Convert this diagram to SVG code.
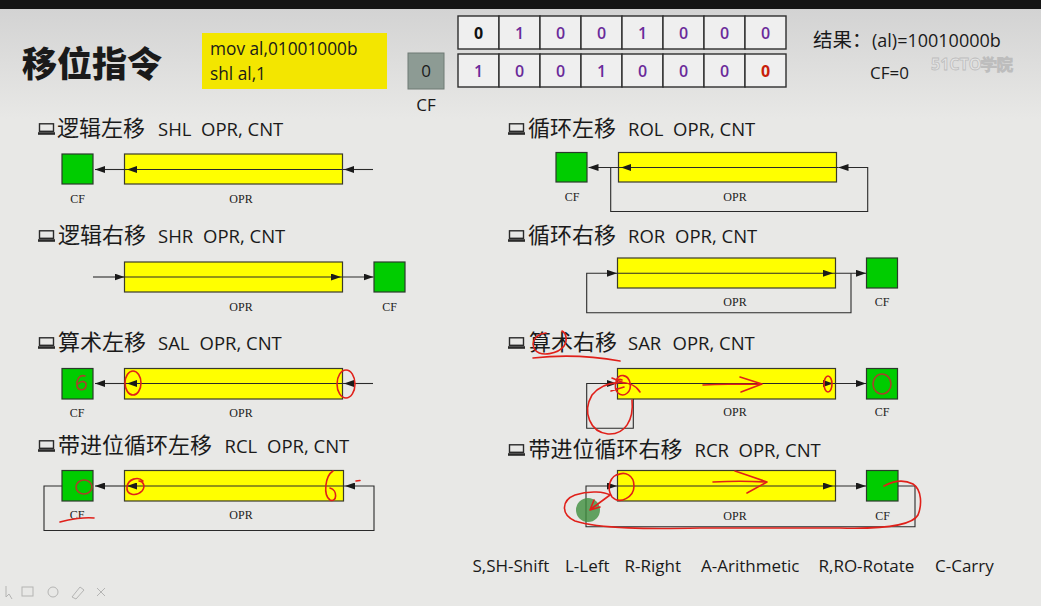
<svg xmlns="http://www.w3.org/2000/svg" width="1041" height="606" viewBox="0 0 1041 606">
<defs>
<linearGradient id="bg" x1="0" y1="0" x2="0" y2="1">
<stop offset="0" stop-color="#d3d3d3"/>
<stop offset="1" stop-color="#e8e8e6"/>
</linearGradient>
<marker id="ah" viewBox="0 0 10 7" refX="10" refY="3.5" markerWidth="10" markerHeight="7" markerUnits="userSpaceOnUse" orient="auto">
<path d="M0,0 L10,3.5 L0,7 z" fill="#1a1a1a"/>
</marker>
<symbol id="ico" viewBox="0 0 17 12">
<rect x="1.5" y="0.8" width="14" height="7.5" fill="none" stroke="#2a2a2a" stroke-width="1.4"/>
<rect x="0" y="9.2" width="17" height="2.6" fill="#2a2a2a"/>
</symbol>
</defs>
<style>
.cjk{font-family:"Noto Sans CJK SC","Noto Sans",sans-serif;fill:#1a1a1a}
.lat{font-family:"Open Sans","Noto Sans",sans-serif;fill:#1a1a1a}
.lbl{font-family:"Liberation Serif","Times New Roman",serif;font-size:12px;fill:#222;text-anchor:middle}
.opr{fill:#ffff00;stroke:#3a3a2a;stroke-width:1.2}
.cf{fill:#00cc00;stroke:#2a3a2a;stroke-width:1.2}
.ln{fill:none;stroke:#2a2a2a;stroke-width:1.1}
.cell{fill:#efefef;stroke:#2e2e2e;stroke-width:1.4}
.bit{font-family:"Open Sans","Noto Sans",sans-serif;font-size:16px;font-weight:600;text-anchor:middle;fill:#6a2a9a}
.red{fill:none;stroke:#e0201a;stroke-width:1.6;stroke-linecap:round;stroke-linejoin:round}
.brn{fill:none;stroke:#a8402a;stroke-width:1.6;stroke-linecap:round}
</style>
<rect x="0" y="0" width="1041" height="606" fill="#e8e8e6"/>
<rect x="0" y="9" width="1041" height="110" fill="url(#bg)"/>
<rect x="0" y="0" width="1041" height="9" fill="#151515"/>

<g id="title">
<text class="cjk" x="22" y="77" font-size="35" font-weight="900">移位指令</text>
</g>

<g id="code">
<rect x="202" y="33" width="185" height="56" fill="#f3e600"/>
<text class="lat" x="210" y="55" font-size="17.3">mov al,01001000b</text>
<text class="lat" x="210" y="80" font-size="17.3">shl al,1</text>
</g>

<g id="bits">
<g id="row1">
<rect class="cell" x="458" y="16" width="41" height="33"/>
<rect class="cell" x="499" y="16" width="41" height="33"/>
<rect class="cell" x="540" y="16" width="41" height="33"/>
<rect class="cell" x="581" y="16" width="41" height="33"/>
<rect class="cell" x="622" y="16" width="41" height="33"/>
<rect class="cell" x="663" y="16" width="41" height="33"/>
<rect class="cell" x="704" y="16" width="41" height="33"/>
<rect class="cell" x="745" y="16" width="41" height="33"/>
<text class="bit" x="478.5" y="38.5" style="fill:#111;font-weight:700">0</text>
<text class="bit" x="519.5" y="38.5">1</text>
<text class="bit" x="560.5" y="38.5">0</text>
<text class="bit" x="601.5" y="38.5">0</text>
<text class="bit" x="642.5" y="38.5">1</text>
<text class="bit" x="683.5" y="38.5">0</text>
<text class="bit" x="724.5" y="38.5">0</text>
<text class="bit" x="765.5" y="38.5">0</text>
</g>
<g id="row2">
<rect class="cell" x="458" y="54" width="41" height="33"/>
<rect class="cell" x="499" y="54" width="41" height="33"/>
<rect class="cell" x="540" y="54" width="41" height="33"/>
<rect class="cell" x="581" y="54" width="41" height="33"/>
<rect class="cell" x="622" y="54" width="41" height="33"/>
<rect class="cell" x="663" y="54" width="41" height="33"/>
<rect class="cell" x="704" y="54" width="41" height="33"/>
<rect class="cell" x="745" y="54" width="41" height="33"/>
<text class="bit" x="478.5" y="76.5">1</text>
<text class="bit" x="519.5" y="76.5">0</text>
<text class="bit" x="560.5" y="76.5">0</text>
<text class="bit" x="601.5" y="76.5">1</text>
<text class="bit" x="642.5" y="76.5">0</text>
<text class="bit" x="683.5" y="76.5">0</text>
<text class="bit" x="724.5" y="76.5">0</text>
<text class="bit" x="765.5" y="76.5" style="fill:#c81e0a;font-weight:700">0</text>
</g>
<g id="cfbit">
<rect x="408" y="53" width="36" height="36" fill="#8d9b94" stroke="#6f7a74" stroke-width="1"/>
<text class="lat" x="426" y="77" font-size="17" text-anchor="middle">0</text>
<text class="lat" x="426" y="111" font-size="17" text-anchor="middle">CF</text>
</g>
</g>

<g id="result">
<text class="lat" x="931" y="70" font-size="16" font-weight="700" style="fill:#e4e4e4;stroke:#bdbdbd;stroke-width:0.8">51CTO学院</text>
<text class="cjk" x="813" y="47" font-size="19.5">结果：</text>
<text class="lat" x="872" y="47" font-size="18">(al)=10010000b</text>
<text class="lat" x="870" y="79" font-size="17">CF=0</text>
</g>

<!-- SHL -->
<g id="shl">
<use href="#ico" x="38" y="123" width="17" height="12"/>
<text class="cjk" x="57" y="136" font-size="22">逻辑左移</text>
<text class="lat" x="158" y="136" font-size="18.5">SHL</text>
<text class="lat" x="201" y="136" font-size="18.5">OPR, CNT</text>
<rect class="cf" x="62" y="154" width="31" height="30"/>
<rect class="opr" x="124.5" y="154" width="218" height="30"/>
<text class="lbl" x="77.5" y="203">CF</text>
<text class="lbl" x="241" y="203">OPR</text>
</g>
<!-- SHR -->
<g id="shr">
<use href="#ico" x="38" y="230" width="17" height="12"/>
<text class="cjk" x="58" y="243" font-size="22">逻辑右移</text>
<text class="lat" x="158" y="243" font-size="18.5">SHR</text>
<text class="lat" x="203" y="243" font-size="18.5">OPR, CNT</text>
<rect class="opr" x="124.5" y="262" width="218" height="30"/>
<rect class="cf" x="374" y="262" width="31" height="30"/>
<text class="lbl" x="241" y="310.5">OPR</text>
<text class="lbl" x="389.5" y="310.5">CF</text>
</g>
<!-- SAL -->
<g id="sal">
<use href="#ico" x="38" y="337" width="17" height="12"/>
<text class="cjk" x="58" y="350" font-size="22">算术左移</text>
<text class="lat" x="158" y="350" font-size="18.5">SAL</text>
<text class="lat" x="199.5" y="350" font-size="18.5">OPR, CNT</text>
<rect class="cf" x="62" y="368.5" width="31" height="30.5"/>
<rect class="opr" x="124.5" y="368.5" width="218" height="30.5"/>
<text class="lbl" x="77" y="417">CF</text>
<text class="lbl" x="241" y="417">OPR</text>
</g>
<!-- RCL -->
<g id="rcl">
<use href="#ico" x="38" y="440" width="17" height="12"/>
<text class="cjk" x="58" y="453" font-size="22">带进位循环左移</text>
<text class="lat" x="224.5" y="453" font-size="18.5">RCL</text>
<text class="lat" x="267" y="453" font-size="18.5">OPR, CNT</text>
<rect class="cf" x="62" y="470.5" width="31" height="30.5"/>
<rect class="opr" x="124.5" y="470.5" width="219" height="30.5"/>
<text class="lbl" x="77" y="519">CF</text>
<text class="lbl" x="241" y="519">OPR</text>
</g>
<!-- ROL -->
<g id="rol">
<use href="#ico" x="508" y="123" width="17" height="12"/>
<text class="cjk" x="528" y="136" font-size="22">循环左移</text>
<text class="lat" x="628" y="136" font-size="18.5">ROL</text>
<text class="lat" x="673" y="136" font-size="18.5">OPR, CNT</text>
<rect class="cf" x="556" y="152.5" width="31" height="29.5"/>
<rect class="opr" x="618.5" y="152.5" width="218" height="29.5"/>
<text class="lbl" x="572" y="200.5">CF</text>
<text class="lbl" x="735" y="200.5">OPR</text>
</g>
<!-- ROR -->
<g id="ror">
<use href="#ico" x="508" y="230" width="17" height="12"/>
<text class="cjk" x="528" y="243" font-size="22">循环右移</text>
<text class="lat" x="628" y="243" font-size="18.5">ROR</text>
<text class="lat" x="675" y="243" font-size="18.5">OPR, CNT</text>
<rect class="opr" x="617.5" y="258" width="218" height="30"/>
<rect class="cf" x="866.5" y="258" width="31" height="30"/>
<text class="lbl" x="735" y="306">OPR</text>
<text class="lbl" x="882" y="306">CF</text>
</g>
<!-- SAR -->
<g id="sar">
<use href="#ico" x="508" y="337" width="17" height="12"/>
<text class="cjk" x="529" y="350" font-size="22">算术右移</text>
<text class="lat" x="628" y="350" font-size="18.5">SAR</text>
<text class="lat" x="672.5" y="350" font-size="18.5">OPR, CNT</text>
<rect class="opr" x="617.5" y="368.5" width="218" height="30.5"/>
<rect class="cf" x="866.5" y="368.5" width="31" height="30.5"/>
<text class="lbl" x="735" y="416">OPR</text>
<text class="lbl" x="882" y="416">CF</text>
</g>
<!-- RCR -->
<g id="rcr">
<use href="#ico" x="508" y="444" width="17" height="12"/>
<text class="cjk" x="528.5" y="457" font-size="22">带进位循环右移</text>
<text class="lat" x="694.5" y="457" font-size="18.5">RCR</text>
<text class="lat" x="738.5" y="457" font-size="18.5">OPR, CNT</text>
<rect class="opr" x="617.5" y="470.5" width="218" height="30.5"/>
<rect class="cf" x="866.5" y="470.5" width="31.5" height="30.5"/>
<text class="lbl" x="735" y="520">OPR</text>
<text class="lbl" x="882.5" y="520">CF</text>
</g>

<g id="connectors">
<!-- SHL -->
<path class="ln" d="M373,169.5 H344" marker-end="url(#ah)"/>
<path class="ln" d="M344,169.5 H127" marker-end="url(#ah)"/>
<path class="ln" d="M127,169.5 H95" marker-end="url(#ah)"/>
<!-- SHR -->
<path class="ln" d="M93,277 H124.5" marker-end="url(#ah)"/>
<path class="ln" d="M124.5,277 H341" marker-end="url(#ah)"/>
<path class="ln" d="M341,277 H373.5" marker-end="url(#ah)"/>
<!-- SAL -->
<path class="ln" d="M373,383.5 H344" marker-end="url(#ah)"/>
<path class="ln" d="M344,383.5 H127" marker-end="url(#ah)"/>
<path class="ln" d="M127,383.5 H95" marker-end="url(#ah)"/>
<!-- RCL -->
<path class="ln" d="M62,486 H44 V530.5 H374 V486 H345" marker-end="url(#ah)"/>
<path class="ln" d="M345,486 H127" marker-end="url(#ah)"/>
<path class="ln" d="M127,486 H95" marker-end="url(#ah)"/>
<!-- ROL -->
<path class="ln" d="M610.7,167.5 V211.5 H867.7 V167.5 H838.5" marker-end="url(#ah)"/>
<path class="ln" d="M838.5,167.5 H621" marker-end="url(#ah)"/>
<path class="ln" d="M621,167.5 H588.5" marker-end="url(#ah)"/>
<!-- ROR -->
<path class="ln" d="M851,273.3 V312.7 H586.7 V273.3 H617" marker-end="url(#ah)"/>
<path class="ln" d="M617,273.3 H833" marker-end="url(#ah)"/>
<path class="ln" d="M833,273.3 H866" marker-end="url(#ah)"/>
<!-- SAR -->
<path class="ln" d="M633.3,399 V428.3 H586.7 V383.5 H617" marker-end="url(#ah)"/>
<path class="ln" d="M617,383.5 H833" marker-end="url(#ah)"/>
<path class="ln" d="M833,383.5 H866" marker-end="url(#ah)"/>
<!-- RCR -->
<path class="ln" d="M898,486 H915 V526.7 H586 V486 H617" marker-end="url(#ah)"/>
<path class="ln" d="M617,486 H833" marker-end="url(#ah)"/>
<path class="ln" d="M833,486 H866" marker-end="url(#ah)"/>
</g>

<g id="annotations">
<!-- SAL -->
<path class="brn" d="M85,376 C79,374 76,381 77,386 C78,391 85,391 86,386 C87,381 81,380 78,384"/>
<ellipse class="red" cx="133" cy="383" rx="8" ry="12"/>
<ellipse class="red" cx="346" cy="384" rx="9" ry="14"/>
<!-- RCL -->
<ellipse class="brn" cx="84" cy="487" rx="8" ry="7"/>
<path class="red" d="M143,481 C138,476 128,479 127,487 C126,495 136,497 142,491 C146,486 143,481 139,481"/>
<path class="red" d="M333,471 C325,476 323,495 330,500 C337,503 338,490 330,488"/>
<path class="red" d="M356,481 L360,480.5"/>
<path class="red" d="M60,522 C70,519 85,517 94,518"/>
<!-- SAR -->
<path class="red" d="M546,333 C536,334 530,342 535,350 C541,357 558,354 564,346 C568,340 566,333 562,331"/>
<path class="red" d="M533,358 C560,355 592,356 620,361"/>
<path class="red" d="M640,392 C632,378 604,380 592,395 C582,412 590,432 608,434 C625,435 634,420 632,400"/>
<path class="red" d="M622,380 C616,376 613,388 618,393 C624,398 632,392 630,383 C628,374 619,373 616,381 M612,378 L624,383 M611,391 L624,387"/>
<path class="red" d="M703,385 C725,384 745,384 761,384 M740,377 L762,384 L741,392"/>
<ellipse class="red" cx="828" cy="384" rx="4" ry="8"/>
<ellipse class="brn" cx="882" cy="384" rx="9" ry="10"/>
<!-- RCR -->
<circle cx="588" cy="510" r="12" fill="#3f8f3f" opacity="0.8"/>
<path class="red" d="M620,474 C610,475 606,488 612,497 C620,505 634,497 634,486 C634,475 625,471 617,475"/>
<path class="red" d="M713,482 C730,481 750,481 766,482 M735,471 L767,482 L747,493"/>
<path class="red" d="M884,486 C895,480 905,480 913,484 C922,490 922,505 918,515 C912,526 880,529 840,528 L700,528 C650,529 600,529 575,521 C560,514 562,500 575,495 C590,490 605,492 610,495 L591,509 M594,500 L590,510 L600,507"/>
</g>

<g id="legend">
<text class="lat" x="472.5" y="572" font-size="17">S,SH-Shift</text>
<text class="lat" x="565" y="572" font-size="17">L-Left</text>
<text class="lat" x="624.5" y="572" font-size="17">R-Right</text>
<text class="lat" x="701" y="572" font-size="17">A-Arithmetic</text>
<text class="lat" x="818.5" y="572" font-size="17">R,RO-Rotate</text>
<text class="lat" x="935" y="572" font-size="17">C-Carry</text>
</g>

<g id="toolbar" opacity="0.45" fill="none" stroke="#777" stroke-width="1">
<path d="M6,586 L6,597 L9,594 L12,599"/>
<rect x="22" y="587" width="11" height="9"/>
<circle cx="53" cy="592" r="5"/>
<path d="M72,597 L80,587 L84,590 L76,599 z"/>
<path d="M97,588 L105,596 M97,596 L105,588"/>
</g>
</svg>
